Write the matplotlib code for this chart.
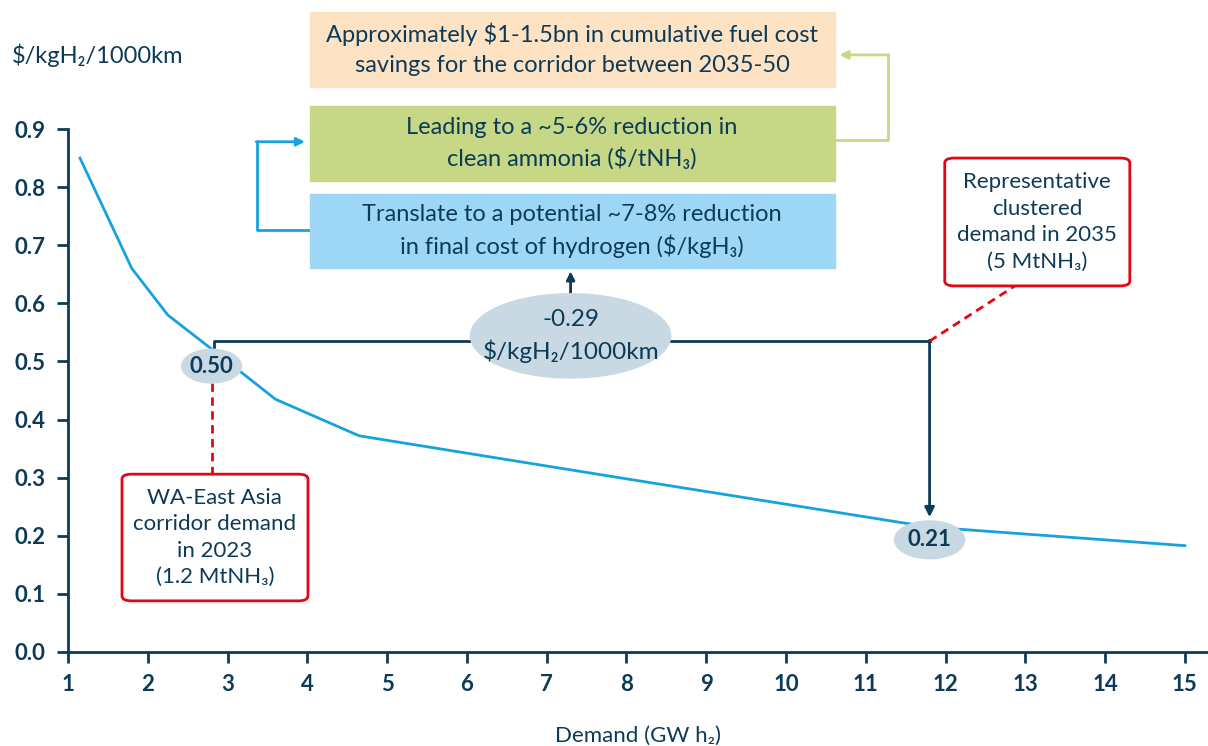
import matplotlib
matplotlib.use("Agg")
from matplotlib import pyplot as plt
from matplotlib.patches import Ellipse, FancyBboxPatch, Rectangle

plt.rcParams['text.parse_math'] = False
plt.rcParams['font.family'] = ['Lato', 'DejaVu Sans']

# data
demand = [1.15, 1.8, 2.25, 3.0, 3.6, 4.65, 8.0, 11.8, 12.0, 15.0]
cost = [0.85, 0.66, 0.58, 0.50, 0.435, 0.372, 0.298, 0.215, 0.213, 0.183]
x_ticks = list(range(1, 16))
y_ticks = [0.0, 0.1, 0.2, 0.3, 0.4, 0.5, 0.6, 0.7, 0.8, 0.9]

start_x, start_val = 2.8, 0.50
end_x, end_val = 11.8, 0.21
saving = -0.29

navy = '#0d3b57'
line_blue = '#16a2de'
red = '#e30613'
bubble = '#c9d9e3'

fig = plt.figure(figsize=(12.08, 7.46), dpi=100)
ax = fig.add_axes([68/1208, 1-652/746, 1-68/1208, (652-129)/746])

ax.plot(demand, cost, color=line_blue, lw=2, zorder=2)

ax.set_xlim(1, 15.29)
ax.set_ylim(0, 0.9)
ax.set_xticks(x_ticks)
ax.set_yticks(y_ticks)
ax.set_yticklabels(['%.1f' % v for v in y_ticks])
for s in ['top', 'right']:
    ax.spines[s].set_visible(False)
for s in ['left', 'bottom']:
    ax.spines[s].set_color(navy)
    ax.spines[s].set_linewidth(2)
ax.tick_params(colors=navy, width=2, length=8, labelsize=16, pad=8)
for lab in ax.get_xticklabels() + ax.get_yticklabels():
    lab.set_fontweight('bold')
ax.set_xlabel('Demand (GW h\u2082)', fontsize=16, color=navy, labelpad=22)
fig.text(12/1208, 1-55/746, '$/kgH\u2082/1000km', fontsize=17, color=navy,
         ha='left', va='center')

# bracket between 2023 and 2035 demand
top = 0.535
ax.plot([2.83, 2.83, 11.8], [0.52, top, top], color=navy, lw=2, zorder=3,
        clip_on=False)
ax.annotate('', xy=(11.8, 0.232), xytext=(11.8, top + 0.0015),
            arrowprops=dict(arrowstyle='-|>', color=navy, lw=2,
                            mutation_scale=14, shrinkA=0, shrinkB=0))

# value bubbles
ax.add_patch(Ellipse((start_x, 0.492), 0.75, 0.058, color=bubble, zorder=4))
ax.text(start_x, 0.492, '%.2f' % start_val, ha='center', va='center',
        fontsize=16, fontweight='bold', color=navy, zorder=5)
ax.add_patch(Ellipse((end_x, 0.193), 0.88, 0.065, color=bubble, zorder=4))
ax.text(end_x, 0.193, '%.2f' % end_val, ha='center', va='center',
        fontsize=16, fontweight='bold', color=navy, zorder=5)
ax.add_patch(Ellipse((7.3, 0.544), 2.51, 0.145, color=bubble, zorder=4))
ax.text(7.3, 0.544, '%.2f\n$/kgH\u2082/1000km' % saving, ha='center',
        va='center', fontsize=17.5, color=navy, zorder=5, linespacing=1.5)
ax.annotate('', xy=(7.3, 0.655), xytext=(7.3, 0.617),
            arrowprops=dict(arrowstyle='-|>', color=navy, lw=2,
                            mutation_scale=12, shrinkA=0, shrinkB=0))

# red callouts
ax.plot([start_x, start_x], [0.463, 0.306], color=red, lw=2, ls=(0, (3, 2)),
        zorder=3)
ax.add_patch(FancyBboxPatch((1.677, 0.088), 4.008-1.677, 0.306-0.088,
                            boxstyle='round,pad=0,rounding_size=0.12',
                            mutation_aspect=0.07, fc='white', ec=red, lw=2,
                            zorder=4))
ax.text(2.84, 0.197, 'WA-East Asia\ncorridor demand\nin 2023\n(1.2 MtNH\u2083)',
        ha='center', va='center', fontsize=16, color=navy, linespacing=1.4,
        zorder=5)
ax.plot([11.8, 12.87], [top, 0.630], color=red, lw=2, ls=(0, (3, 2)),
        zorder=3, clip_on=False)
ax.add_patch(FancyBboxPatch((11.99, 0.630), 14.31-11.99, 0.850-0.630,
                            boxstyle='round,pad=0,rounding_size=0.12',
                            mutation_aspect=0.07, fc='white', ec=red, lw=2,
                            zorder=4, clip_on=False))
ax.text(13.15, 0.740, 'Representative\nclustered\ndemand in 2035\n(5 MtNH\u2083)',
        ha='center', va='center', fontsize=16, color=navy, linespacing=1.4,
        zorder=5)

# cascade of boxes above the chart
boxes = [
    (0.9725, 1.1015, '#fde3c3',
     'Approximately $1-1.5bn in cumulative fuel cost\nsavings for the corridor between 2035-50'),
    (0.811, 0.940, '#c6d886',
     'Leading to a ~5-6% reduction in\nclean ammonia ($/tNH\u2083)'),
    (0.661, 0.789, '#9ed7f6',
     'Translate to a potential ~7-8% reduction\nin final cost of hydrogen ($/kgH\u2083)'),
]
for y0, y1, col, txt in boxes:
    ax.add_patch(Rectangle((4.03, y0), 10.61-4.03, y1-y0, color=col,
                           clip_on=False, zorder=4))
    ax.text((4.03+10.61)/2, (y0+y1)/2, txt, ha='center', va='center',
            fontsize=17, color=navy, linespacing=1.5, zorder=5, clip_on=False)

ax.plot([4.03, 3.37, 3.37], [0.726, 0.726, 0.878], color=line_blue, lw=2,
        clip_on=False)
ax.annotate('', xy=(3.97, 0.878), xytext=(3.36, 0.878),
            arrowprops=dict(arrowstyle='-|>', color=line_blue, lw=2,
                            mutation_scale=12, shrinkA=0, shrinkB=0),
            annotation_clip=False)
ax.plot([10.61, 11.28, 11.28], [0.881, 0.881, 1.0275], color='#c6d886', lw=2,
        clip_on=False)
ax.annotate('', xy=(10.67, 1.0275), xytext=(11.29, 1.0275),
            arrowprops=dict(arrowstyle='-|>', color='#c6d886', lw=2,
                            mutation_scale=12, shrinkA=0, shrinkB=0),
            annotation_clip=False)

fig.savefig('out.png', dpi=100)
